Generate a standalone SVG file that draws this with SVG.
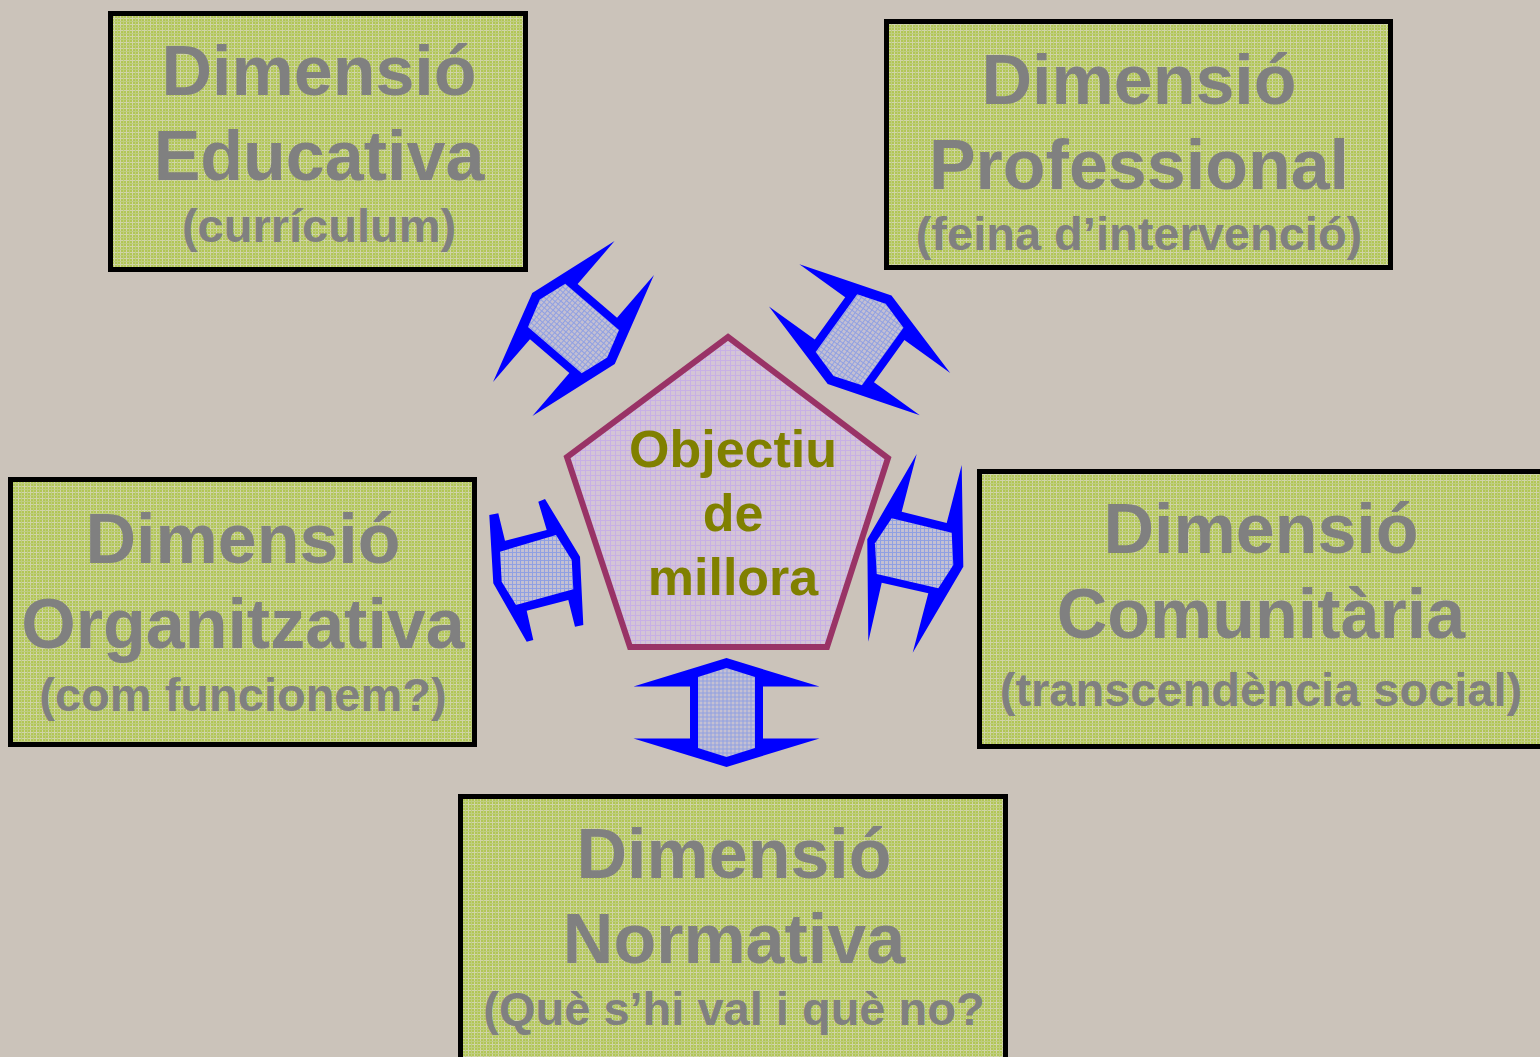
<svg xmlns="http://www.w3.org/2000/svg" xmlns:xlink="http://www.w3.org/1999/xlink" width="1540" height="1057" viewBox="0 0 1540 1057">
<style>
.box{fill:url(#pg);stroke:#000;stroke-width:5}
.t1{font-family:"Liberation Sans",Arial,sans-serif;font-weight:bold;font-size:70px;fill:#808080;text-anchor:middle}
.t2{font-family:"Liberation Sans",Arial,sans-serif;font-weight:bold;font-size:47px;fill:#808080;text-anchor:middle}
.tc{font-family:"Liberation Sans",Arial,sans-serif;font-weight:bold;font-size:52px;fill:#808000;text-anchor:middle}
.ao{fill:#0000ff}
.ai{fill:url(#pb)}
</style>
<defs>
<pattern id="pg" width="6" height="6" patternUnits="userSpaceOnUse">
<rect width="6" height="6" fill="#b2c656"/>
<path d="M0 0.5H6M0.5 0V6" stroke="#d0d4a8" stroke-width="1"/>
<path d="M0 3.5H6M3.5 0V6" stroke="#bfcd80" stroke-width="1"/>
</pattern>
<pattern id="pb" width="4" height="4" patternUnits="userSpaceOnUse">
<rect width="4" height="4" fill="#c4c0d2"/>
<path d="M0 0.5H4M0.5 0V4" stroke="#90a0e2" stroke-width="1"/>
</pattern>
<pattern id="pp" width="5" height="5" patternUnits="userSpaceOnUse">
<rect width="5" height="5" fill="#d4c4d6"/>
<path d="M0 0.5H5M0.5 0V5" stroke="#c8b0e4" stroke-width="1"/>
</pattern>
<g id="dbl">
<polygon class="ao" points="0,-54.5 93,-26 36.5,-26 36.5,26 93,26 0,54.5 -93,26 -36.5,26 -36.5,-26 -93,-26"/>
<polygon class="ai" points="0,-44.5 28.5,-35.5 28.5,35.5 0,44.5 -28.5,35.5 -28.5,-35.5"/>
</g>
</defs>
<rect width="1540" height="1057" fill="#cbc3ba"/>

<g id="connectors">
<use xlink:href="#dbl" transform="translate(573.5,328.5) rotate(-49.2)"/>
<use xlink:href="#dbl" transform="translate(859.6,339.8) rotate(35.8)"/>
<use xlink:href="#dbl" transform="translate(726.5,712.5)"/>
<g id="arrow-left">
<polygon class="ao" points="489.3,515 498.3,513.3 505,540.7 546.7,530 538.3,501.7 545,499 580,556.7 583.3,625 575,626.7 568.3,600 526.7,610.7 533.3,640 526.7,641.7 493.3,583.3"/>
<polygon class="ai" points="500,551.7 556,535 571.7,560 573.3,589.3 516,605 501.7,581.7"/>
</g>
<g id="arrow-right">
<polygon class="ao" points="916.7,454 901.7,511.7 946.7,523 961.7,465 963.3,566.7 912.7,652.7 928.3,593.3 881.7,582.7 868.3,641.7 867.3,539.3"/>
<polygon class="ai" points="891.7,518.3 951.7,532.7 953.3,565 938.3,588.3 876.7,574 875,543.3"/>
</g>
</g>

<g id="node-educativa">
<rect class="box" x="110.5" y="13.5" width="415" height="256"/>
<text class="t1" x="319" y="95">Dimensió</text>
<text class="t1" x="319" y="180">Educativa</text>
<text class="t2" x="319" y="242">(currículum)</text>
</g>

<g id="node-professional">
<rect class="box" x="886.5" y="21.5" width="504" height="246"/>
<text class="t1" x="1139" y="104">Dimensió</text>
<text class="t1" x="1139" y="189">Professional</text>
<text class="t2" x="1139" y="250">(feina d’intervenció)</text>
</g>

<g id="node-organitzativa">
<rect class="box" x="10.5" y="479.5" width="464" height="265"/>
<text class="t1" x="243" y="563">Dimensió</text>
<text class="t1" x="243" y="648">Organitzativa</text>
<text class="t2" x="243" y="711">(com funcionem?)</text>
</g>

<g id="node-comunitaria">
<rect class="box" x="979.5" y="471.5" width="570" height="275"/>
<text class="t1" x="1261" y="553">Dimensió</text>
<text class="t1" x="1261" y="638">Comunitària</text>
<text class="t2" x="1261" y="706">(transcendència social)</text>
</g>

<g id="node-normativa">
<rect class="box" x="460.5" y="796.5" width="545" height="270"/>
<text class="t1" x="734" y="878">Dimensió</text>
<text class="t1" x="734" y="963">Normativa</text>
<text class="t2" x="734" y="1025">(Què s’hi val i què no?</text>
</g>

<g id="node-objectiu">
<polygon points="728,337 888,458 827,647 630,647 567,457" fill="url(#pp)" stroke="#993366" stroke-width="6"/>
<text class="tc" x="733" y="467">Objectiu</text>
<text class="tc" x="733" y="531">de</text>
<text class="tc" x="733" y="595">millora</text>
</g>
</svg>
